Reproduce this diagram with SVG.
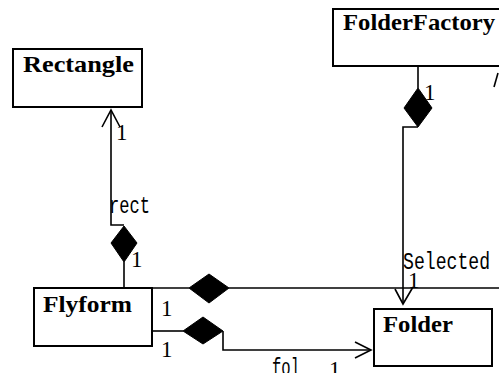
<svg xmlns="http://www.w3.org/2000/svg" width="499" height="373" viewBox="0 0 499 373">
<style>
.box{fill:#fff;stroke:#000;stroke-width:2}
.name{font-family:"Liberation Serif","Times New Roman",serif;font-weight:bold;font-size:23px;fill:#000}
.ln{fill:none;stroke:#000;stroke-width:1.6}
.dia{fill:#000;stroke:#000;stroke-width:1}
.lbl{font-family:"Liberation Mono","Courier New",monospace;font-size:24px;fill:#000}
.one{font-family:"Liberation Serif","Times New Roman",serif;font-size:23px;fill:#000}
</style>
<rect width="499" height="373" fill="#fff"/>
<g id="connectors">
  <path class="ln" d="M111,110 V225 H124"/>
  <path class="dia" d="M124,226 L137,243 L124,262 L111,243 Z"/>
  <path class="ln" d="M124,262 V288"/>
  <path class="ln" d="M102,127 L111,110 L120,127"/>
  <path class="ln" d="M418,66 V88"/>
  <path class="dia" d="M418,88 L432,108 L418,127 L404,108 Z"/>
  <path class="ln" d="M418,127 H403 V304"/>
  <path class="ln" d="M395,289 L403,304 L413,287"/>
  <path class="ln" d="M152,288 H189"/>
  <path class="dia" d="M189,288 L209,274 L229,288 L209,303 Z"/>
  <path class="ln" d="M229,288 H499"/>
  <path class="ln" d="M152,331 H183"/>
  <path class="dia" d="M183,331 L203,317 L223,331 L203,344 Z"/>
  <path class="ln" d="M223,331 V350 H371"/>
  <path class="ln" d="M355,342 L371,350 L355,358"/>
  <path class="ln" d="M494,87 L498,73"/>
  <text class="one" x="116" y="140">1</text>
  <text class="one" x="131" y="267">1</text>
  <text class="one" x="424" y="100">1</text>
  <text class="one" x="408" y="288">1</text>
  <text class="one" x="161" y="316">1</text>
  <text class="one" x="161" y="357">1</text>
  <text class="one" x="329" y="377">1</text>
  <text class="lbl" x="109" y="213" textLength="41" lengthAdjust="spacingAndGlyphs">rect</text>
  <text class="lbl" x="403" y="269" textLength="87" lengthAdjust="spacingAndGlyphs">Selected</text>
  <text class="lbl" x="272" y="375" textLength="28" lengthAdjust="spacingAndGlyphs">fol</text>
</g>
<g id="Rectangle">
  <rect class="box" x="13" y="49" width="129" height="58"/>
  <text class="name" x="23" y="72" textLength="111" lengthAdjust="spacingAndGlyphs">Rectangle</text>
</g>
<g id="FolderFactory">
  <rect class="box" x="333" y="9" width="180" height="57"/>
  <text class="name" x="343" y="30" textLength="152" lengthAdjust="spacingAndGlyphs">FolderFactory</text>
</g>
<g id="Flyform">
  <rect class="box" x="34" y="288" width="118" height="58"/>
  <text class="name" x="43" y="312" textLength="89" lengthAdjust="spacingAndGlyphs">Flyform</text>
</g>
<g id="Folder">
  <rect class="box" x="374" y="309" width="118" height="57"/>
  <text class="name" x="383" y="332" textLength="70" lengthAdjust="spacingAndGlyphs">Folder</text>
</g>
</svg>
